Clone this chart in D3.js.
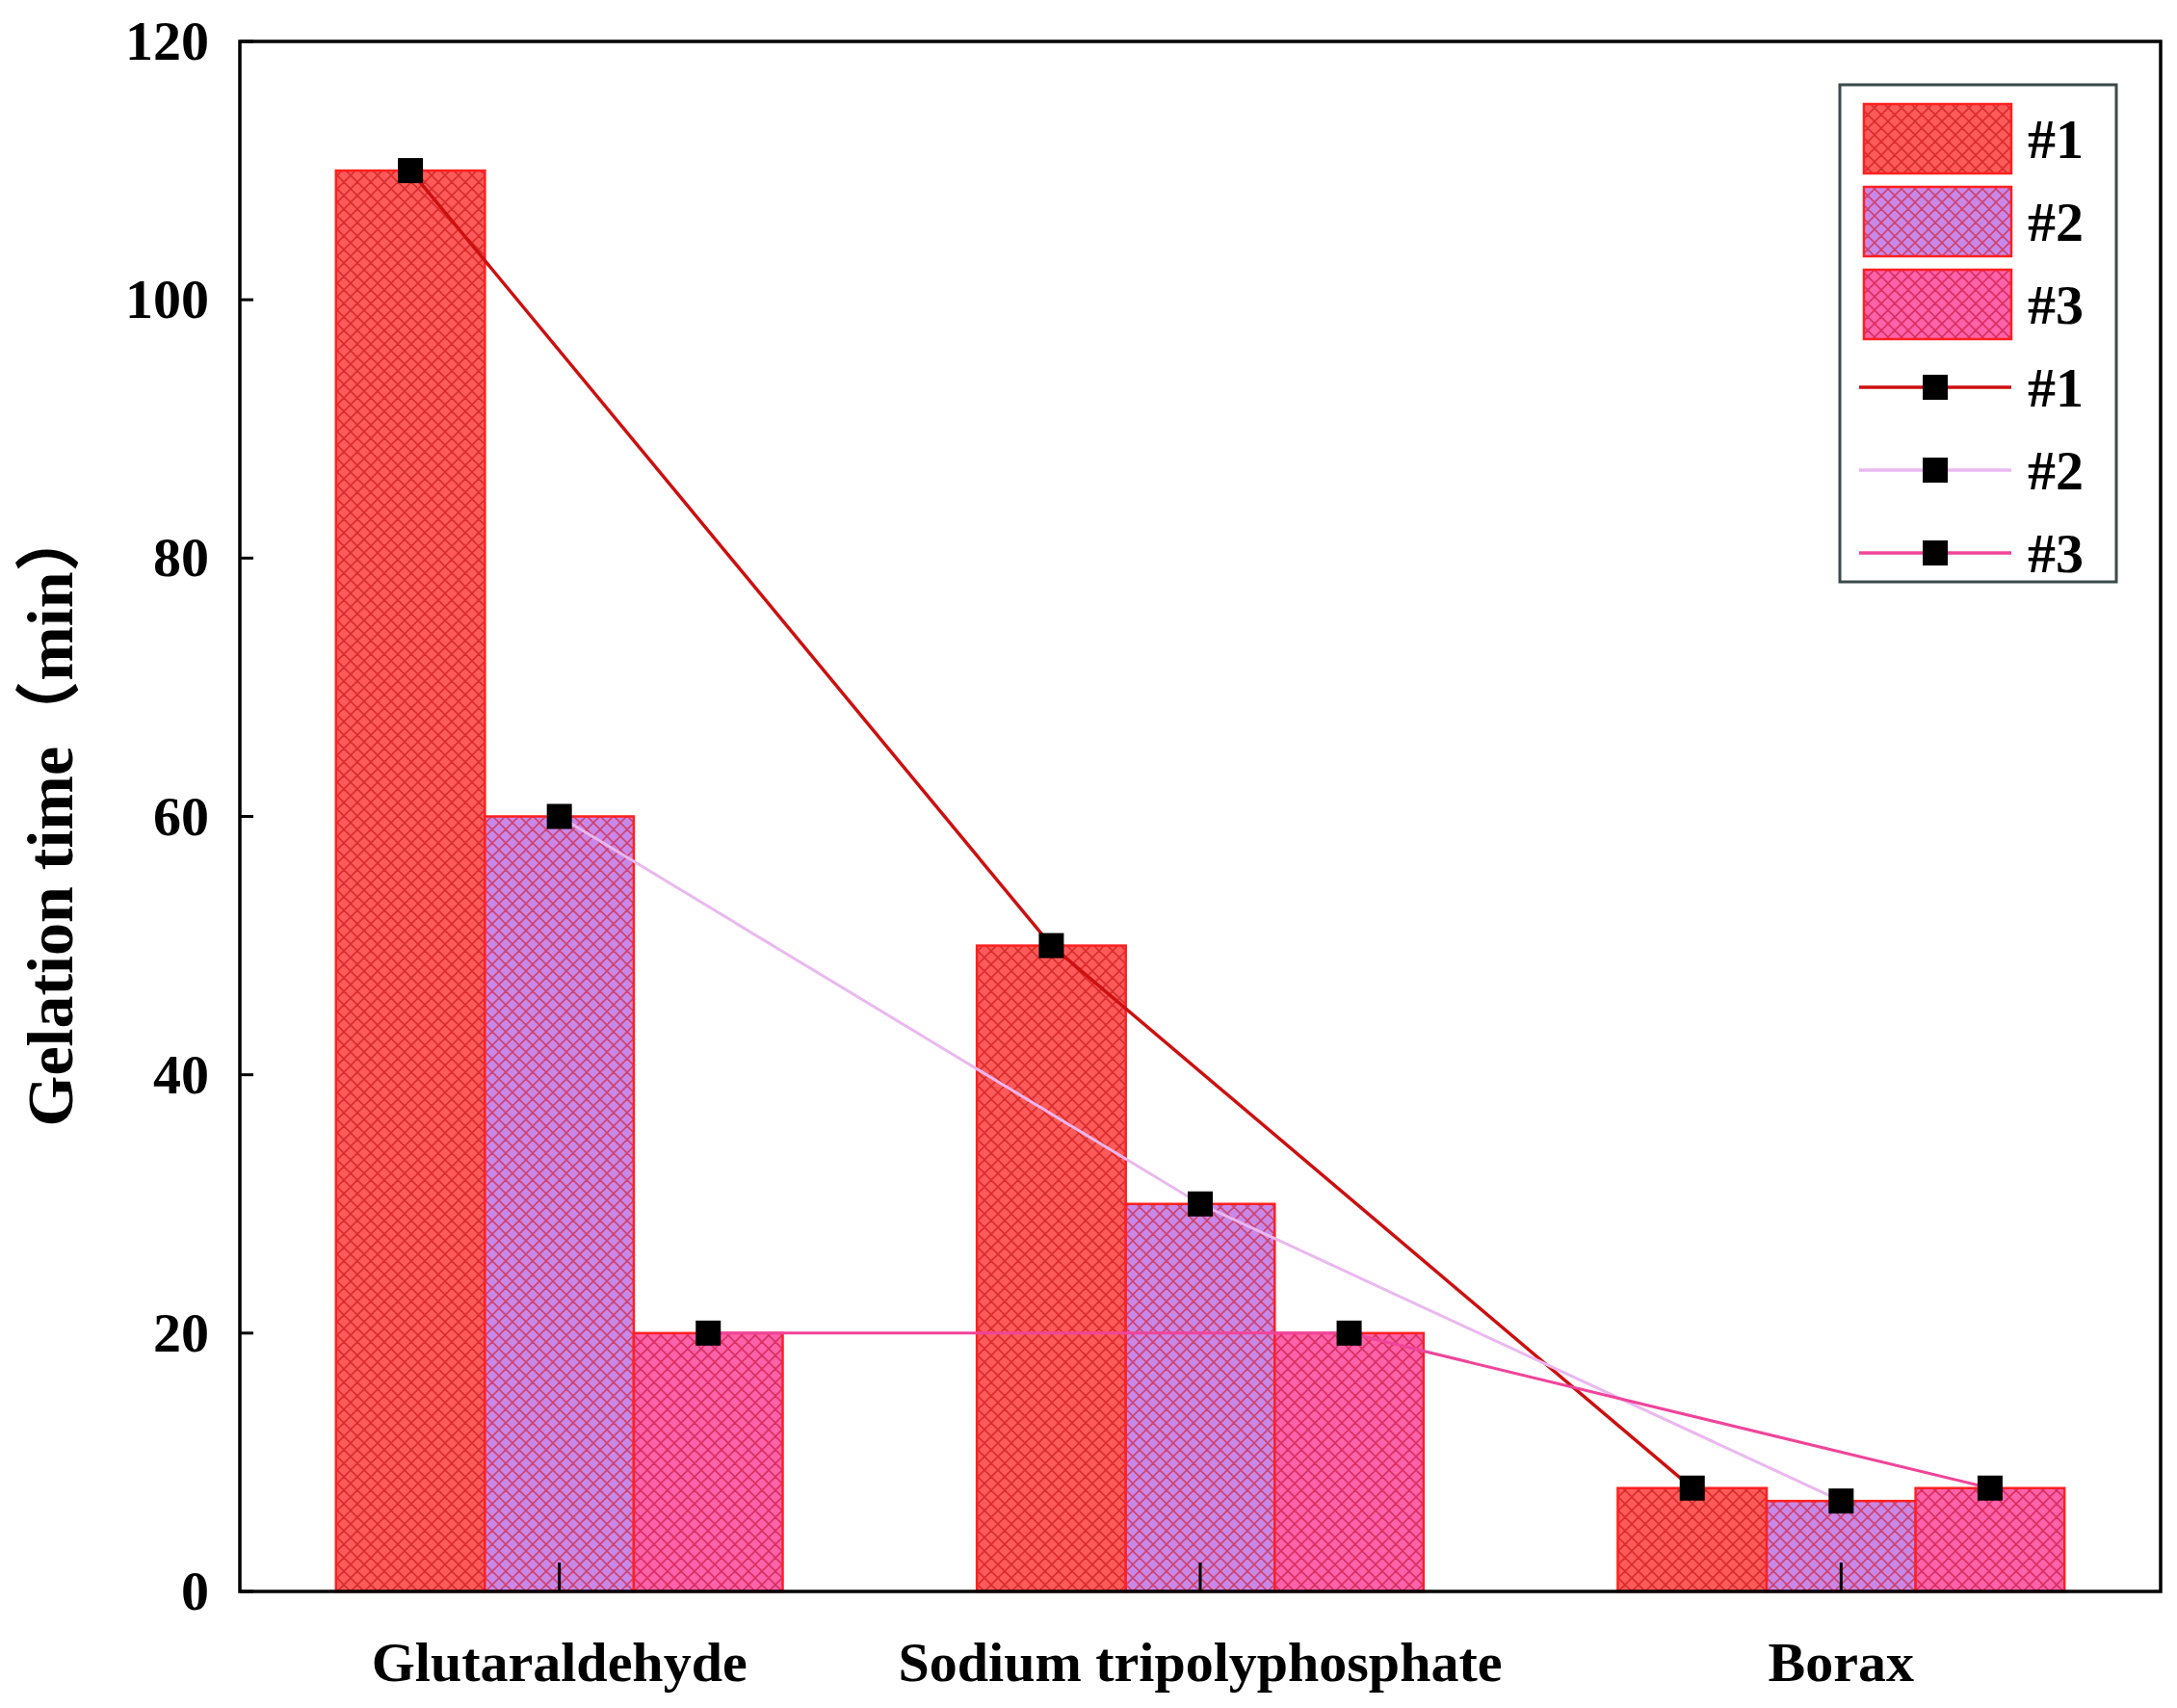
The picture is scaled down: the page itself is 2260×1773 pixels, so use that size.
<!DOCTYPE html>
<html><head><meta charset="utf-8">
<script src="https://cdn.jsdelivr.net/npm/d3@7"></script>
<style>body{margin:0;background:#fff}</style>
</head><body>
<svg id="chart" width="2260" height="1773"></svg>
<script>
const categories = ["Glutaraldehyde", "Sodium tripolyphosphate", "Borax"];
const seriesNames = ["#1", "#2", "#3"];
// values[category][series]
const glutaraldehyde = [110, 60, 20];
const sodiumTPP = [50, 30, 20];
const borax = [8, 7, 8];
const values = [glutaraldehyde, sodiumTPP, borax];
const yTicks = [0, 20, 40, 60, 80, 100, 120];

const barFill = ["#ff5a5a", "#c888e8", "#ff62a8"];
const hatchCol = ["#d02020", "#d03050", "#d02050"];
const lineCol = ["#cc1010", "#eab8f0", "#f0449a"];

const svg = d3.select("#chart");
const L = 249, R = 2243, T = 43, B = 1652;
const font = "'Liberation Serif', 'Times New Roman', serif";

const defs = svg.append("defs");
barFill.forEach((c, i) => {
  const p = defs.append("pattern").attr("id", "hatch" + i).attr("patternUnits", "userSpaceOnUse")
    .attr("width", 14).attr("height", 14);
  p.append("rect").attr("width", 14).attr("height", 14).attr("fill", c);
  p.append("path").attr("d", "M0,0L14,14M14,0L0,14M-7,7L7,21M7,-7L21,7M-7,7L7,-7M7,21L21,7")
    .attr("stroke", hatchCol[i]).attr("stroke-width", 1.6).attr("opacity", 0.8);
});

const x = d3.scaleBand().domain(categories).range([L, R]).paddingInner(0.303).paddingOuter(0.15);
const xs = d3.scaleBand().domain(seriesNames).range([0, x.bandwidth()]);
const y = d3.scaleLinear().domain([0, 120]).range([B, T]);

// bars
categories.forEach((c, ci) => {
  seriesNames.forEach((s, si) => {
    svg.append("rect").attr("x", x(c) + xs(s)).attr("y", y(values[ci][si]))
      .attr("width", xs.bandwidth()).attr("height", y(0) - y(values[ci][si]))
      .attr("fill", `url(#hatch${si})`).attr("stroke", "#ff2020").attr("stroke-width", 2.5);
  });
});

// lines
seriesNames.forEach((s, si) => {
  const pts = categories.map((c, ci) => [x(c) + xs(s) + xs.bandwidth() / 2, y(values[ci][si])]);
  svg.append("path").attr("d", d3.line()(pts)).attr("fill", "none")
    .attr("stroke", lineCol[si]).attr("stroke-width", si === 0 ? 3.5 : 3);
  pts.forEach(p => svg.append("rect").attr("x", p[0] - 13).attr("y", p[1] - 13)
    .attr("width", 26).attr("height", 26).attr("fill", "#000"));
});

// axes frame
svg.append("rect").attr("x", L).attr("y", T).attr("width", R - L).attr("height", B - T)
  .attr("fill", "none").attr("stroke", "#000").attr("stroke-width", 3.5);

const yAxis = svg.append("g").attr("transform", `translate(${L},0)`)
  .call(d3.axisLeft(y).tickValues(yTicks).tickSize(0).tickPadding(32));
yAxis.select(".domain").remove();
yAxis.selectAll("text").attr("font-family", font).attr("font-weight", "bold").attr("font-size", 58).attr("fill", "#000");
yTicks.forEach(t => svg.append("line").attr("x1", L).attr("x2", L + 14).attr("y1", y(t)).attr("y2", y(t)).attr("stroke", "#000").attr("stroke-width", 3));

const xAxis = svg.append("g").attr("transform", `translate(0,${B})`)
  .call(d3.axisBottom(x).tickSize(0).tickPadding(52));
xAxis.select(".domain").remove();
xAxis.selectAll("text").attr("font-family", font).attr("font-weight", "bold").attr("font-size", 58).attr("fill", "#000");
categories.forEach(c => svg.append("line").attr("x1", x(c) + x.bandwidth() / 2).attr("x2", x(c) + x.bandwidth() / 2)
  .attr("y1", B).attr("y2", B - 30).attr("stroke", "#000").attr("stroke-width", 3));

svg.append("text").attr("transform", `translate(75,${(T + B) / 2}) rotate(-90)`)
  .attr("text-anchor", "middle").attr("font-family", font + ", 'Noto Sans CJK SC'").attr("font-weight", "bold")
  .attr("font-size", 68).text("Gelation time（min）");

// legend
const lg = svg.append("g");
lg.append("rect").attr("x", 1910).attr("y", 88).attr("width", 287).attr("height", 516)
  .attr("fill", "#fff").attr("stroke", "#3a4a4a").attr("stroke-width", 3);
seriesNames.forEach((s, i) => {
  const yy = 108 + i * 86;
  lg.append("rect").attr("x", 1935).attr("y", yy).attr("width", 153).attr("height", 72)
    .attr("fill", `url(#hatch${i})`).attr("stroke", "#ff2020").attr("stroke-width", 2.5);
  lg.append("text").attr("x", 2105).attr("y", yy + 56).attr("font-family", font).attr("font-weight", "bold")
    .attr("font-size", 58).text(s);
});
seriesNames.forEach((s, i) => {
  const yy = 402 + i * 86;
  lg.append("line").attr("x1", 1930).attr("x2", 2088).attr("y1", yy).attr("y2", yy)
    .attr("stroke", lineCol[i]).attr("stroke-width", 3.5);
  lg.append("rect").attr("x", 1996).attr("y", yy - 13).attr("width", 26).attr("height", 26).attr("fill", "#000");
  lg.append("text").attr("x", 2105).attr("y", yy + 20).attr("font-family", font).attr("font-weight", "bold")
    .attr("font-size", 58).text(s);
});
</script>
</body></html>
